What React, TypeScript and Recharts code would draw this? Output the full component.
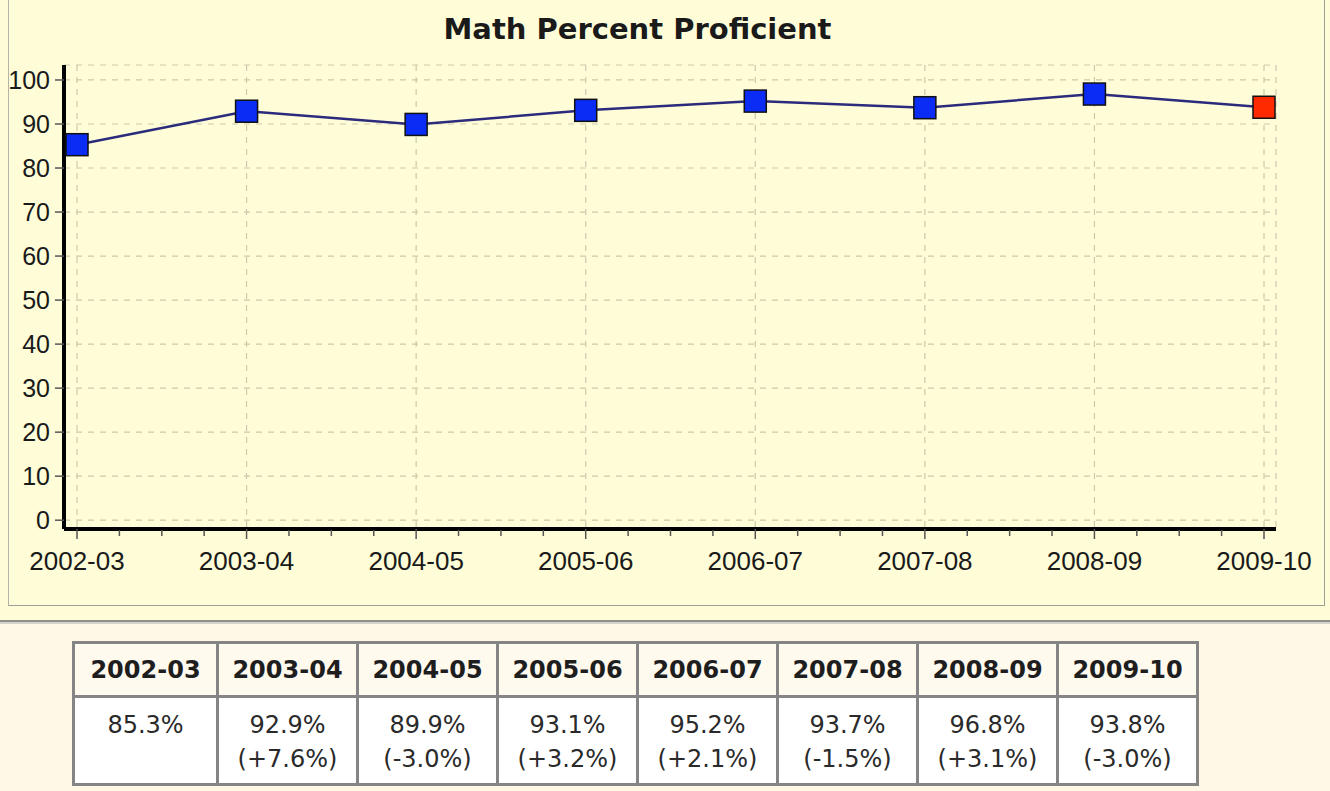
import React from "react";
import { LineChart, Line, XAxis, YAxis, CartesianGrid } from "recharts";

const years = ["2002-03", "2003-04", "2004-05", "2005-06", "2006-07", "2007-08", "2008-09", "2009-10"];
const proficient = [85.3, 92.9, 89.9, 93.1, 95.2, 93.7, 96.8, 93.8];
const changes = ["", "(+7.6%)", "(-3.0%)", "(+3.2%)", "(+2.1%)", "(-1.5%)", "(+3.1%)", "(-3.0%)"];
const yTicks = [0, 10, 20, 30, 40, 50, 60, 70, 80, 90, 100];

const data = years.map((year, i) => ({ year, value: proficient[i] }));

// 3 minor ticks between each pair of categories
const minorTicks: number[] = [];
for (let i = 0; i < years.length - 1; i++) {
  for (let k = 1; k <= 3; k++) minorTicks.push(i + k / 4);
}

const CHART_BG = "#fffdd8";
const LOWER_BG = "#fff8e6";
const PAD = { left: 13, right: 12 };

const SquareDot = (props: any) => {
  const { cx, cy, index } = props;
  if (cx == null || cy == null) return null;
  const last = index === years.length - 1;
  return (
    <rect
      key={`dot-${index}`}
      x={cx - 11}
      y={cy - 11}
      width={22}
      height={22}
      fill={last ? "#ff2a00" : "#0a2cf5"}
      stroke="#111"
      strokeWidth={1.5}
    />
  );
};

export default function App() {
  return (
    <div style={{ position: "absolute", left: 0, top: 0, width: 1330, height: 791, background: LOWER_BG, overflow: "hidden" }}>
      <div style={{ position: "absolute", left: 0, top: 0, width: 1330, height: 620, background: CHART_BG }} />
      <div
        style={{
          position: "absolute",
          left: 8,
          top: -2,
          width: 1315,
          height: 607,
          borderLeft: "1px solid #b4b4a8",
          borderRight: "1px solid #a0a098",
          borderBottom: "1px solid #a0a098",
        }}
      />
      <div style={{ position: "absolute", left: 0, top: 620, width: 1330, height: 2, background: "#8e8e8a" }} />
      <div style={{ position: "absolute", left: 0, top: 622, width: 1330, height: 2, background: "#d6d4cc" }} />

      <div
        style={{
          position: "absolute",
          left: 0,
          top: 11,
          width: 1275,
          textAlign: "center",
          fontFamily: "'DejaVu Sans', Verdana, sans-serif",
          fontWeight: "bold",
          fontSize: 29,
          lineHeight: "36px",
          color: "#1a1a1a",
        }}
      >
        Math Percent Proficient
      </div>

      <div style={{ position: "absolute", left: 0, top: 0 }}>
        <LineChart width={1330} height={605} data={data} margin={{ top: 65, right: 54, bottom: 37, left: 0 }}>
          <CartesianGrid stroke="#cdc9ad" strokeDasharray="6 6" strokeWidth={1.2} />
          <XAxis
            dataKey="year"
            padding={PAD}
            height={1}
            interval={0}
            axisLine={{ stroke: "#000", strokeWidth: 4 }}
            tickLine={{ stroke: "#555", strokeWidth: 1.5 }}
            tickSize={10}
            tickMargin={13}
            tick={{ fontFamily: "'Liberation Sans', Arial, sans-serif", fontSize: 26, fill: "#1a1a1a" }}
          />
          <XAxis
            xAxisId="minor"
            type="number"
            dataKey={() => 0}
            domain={[0, years.length - 1]}
            ticks={minorTicks}
            padding={PAD}
            height={38}
            axisLine={false}
            tickSize={6}
            tickLine={{ stroke: "#555", strokeWidth: 1.5 }}
            tickFormatter={() => ""}
          />
          <YAxis
            width={64}
            domain={[-2, 103.4]}
            ticks={yTicks}
            interval={0}
            axisLine={{ stroke: "#000", strokeWidth: 4 }}
            tickLine={{ stroke: "#555", strokeWidth: 1.5 }}
            tickSize={9}
            tickMargin={5}
            tick={{ fontFamily: "'Liberation Sans', Arial, sans-serif", fontSize: 25, fill: "#1a1a1a" }}
          />
          <Line
            type="linear"
            dataKey="value"
            stroke="#2b2b7c"
            strokeWidth={2.5}
            dot={<SquareDot />}
            activeDot={false}
            isAnimationActive={false}
          />
        </LineChart>
      </div>

      <table
        style={{
          position: "absolute",
          left: 72,
          top: 641,
          width: 1126,
          borderCollapse: "collapse",
          border: "3px solid #858585",
          fontFamily: "'DejaVu Sans', Verdana, sans-serif",
          color: "#1e1e1e",
          tableLayout: "fixed",
        }}
      >
        <colgroup>
          {years.map((y, i) => (
            <col key={y} style={{ width: i === 0 ? 144 : 140 }} />
          ))}
        </colgroup>
        <tbody>
          <tr style={{ height: 54, background: "#fff9ee" }}>
            {years.map((y) => (
              <th key={y} style={{ border: "3px solid #858585", fontSize: 24, fontWeight: "bold", padding: 0, textAlign: "center" }}>
                {y}
              </th>
            ))}
          </tr>
          <tr style={{ height: 88, background: "#ffffff" }}>
            {years.map((y, i) => (
              <td
                key={y}
                style={{
                  border: "3px solid #858585",
                  fontSize: 24,
                  lineHeight: "34px",
                  verticalAlign: "top",
                  textAlign: "center",
                  padding: "10px 0 0 0",
                  color: "#2a2a2a",
                }}
              >
                <div>{proficient[i].toFixed(1)}%</div>
                <div>{changes[i]}</div>
              </td>
            ))}
          </tr>
        </tbody>
      </table>
    </div>
  );
}
